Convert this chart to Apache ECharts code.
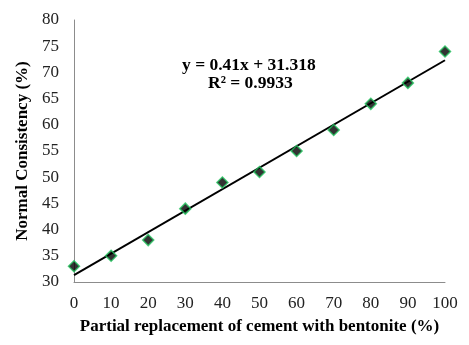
<!DOCTYPE html>
<html>
<head>
    <script src="https://cdn.jsdelivr.net/npm/echarts@6/dist/echarts.min.js"></script>
</head>
<body style="margin:0">
<div id="chart" style="width:469px;height:345px"></div>
<script>
    var replacement = [0, 10, 20, 30, 40, 50, 60, 70, 80, 90, 100];
    var consistency = [33, 35, 38, 44, 49, 51, 55, 59, 64, 68, 74];
    var eqText = 'y = 0.41x + 31.318';
    var r2Text = 'R² = 0.9933';

    // least squares fit for the trend line
    var n = replacement.length, sx = 0, sy = 0, sxy = 0, sxx = 0;
    for (var i = 0; i < n; i++) {
        sx += replacement[i]; sy += consistency[i];
        sxy += replacement[i] * consistency[i]; sxx += replacement[i] * replacement[i];
    }
    var slope = (n * sxy - sx * sy) / (n * sxx - sx * sx);
    var icpt = (sy - slope * sx) / n;
    var xMin = replacement[0], xMax = replacement[n - 1];
    var trend = [[xMin, icpt + slope * xMin], [xMax, icpt + slope * xMax]];

    var points = [];
    for (var j = 0; j < n; j++) points.push([replacement[j], consistency[j]]);

    var font = 'Liberation Serif';
    var myChart = echarts.init(document.getElementById('chart'));
    myChart.setOption({
        animation: false,
        backgroundColor: '#fff',
        grid: { left: 74, right: 24, top: 20, bottom: 63 },
        graphic: [
            { type: 'text', left: 182, top: 56, style: { text: eqText, font: 'bold 17.5px ' + font, fill: '#000' } },
            { type: 'text', left: 208, top: 74, style: { text: r2Text, font: 'bold 17.5px ' + font, fill: '#000' } }
        ],
        xAxis: {
            type: 'value', min: 0, max: 100, interval: 10,
            name: 'Partial replacement of cement with bentonite (%)',
            nameLocation: 'middle', nameGap: 36,
            nameTextStyle: { fontFamily: font, fontWeight: 'bold', fontSize: 17, color: '#000' },
            axisLine: { lineStyle: { color: '#8c8c8c', width: 1 } },
            axisTick: { show: false },
            splitLine: { show: false },
            axisLabel: { fontFamily: font, fontSize: 17, color: '#222', margin: 13 }
        },
        yAxis: {
            type: 'value', min: 30, max: 80, interval: 5,
            name: 'Normal Consistency (%)',
            nameLocation: 'middle', nameGap: 34,
            nameTextStyle: { fontFamily: font, fontWeight: 'bold', fontSize: 17, color: '#000' },
            axisLine: { show: true, lineStyle: { color: '#8c8c8c', width: 1 } },
            axisTick: { show: false },
            splitLine: { show: false },
            axisLabel: { fontFamily: font, fontSize: 17, color: '#222', margin: 15 }
        },
        series: [
            {
                type: 'line', data: trend, symbol: 'none',
                lineStyle: { color: '#000', width: 2 }, z: 2
            },
            {
                type: 'scatter', data: points, symbol: 'diamond', symbolSize: 11,
                itemStyle: { color: '#000', borderColor: '#22c25c', borderWidth: 1.5 }, z: 3
            }
        ]
    });
</script>
</body>
</html>
